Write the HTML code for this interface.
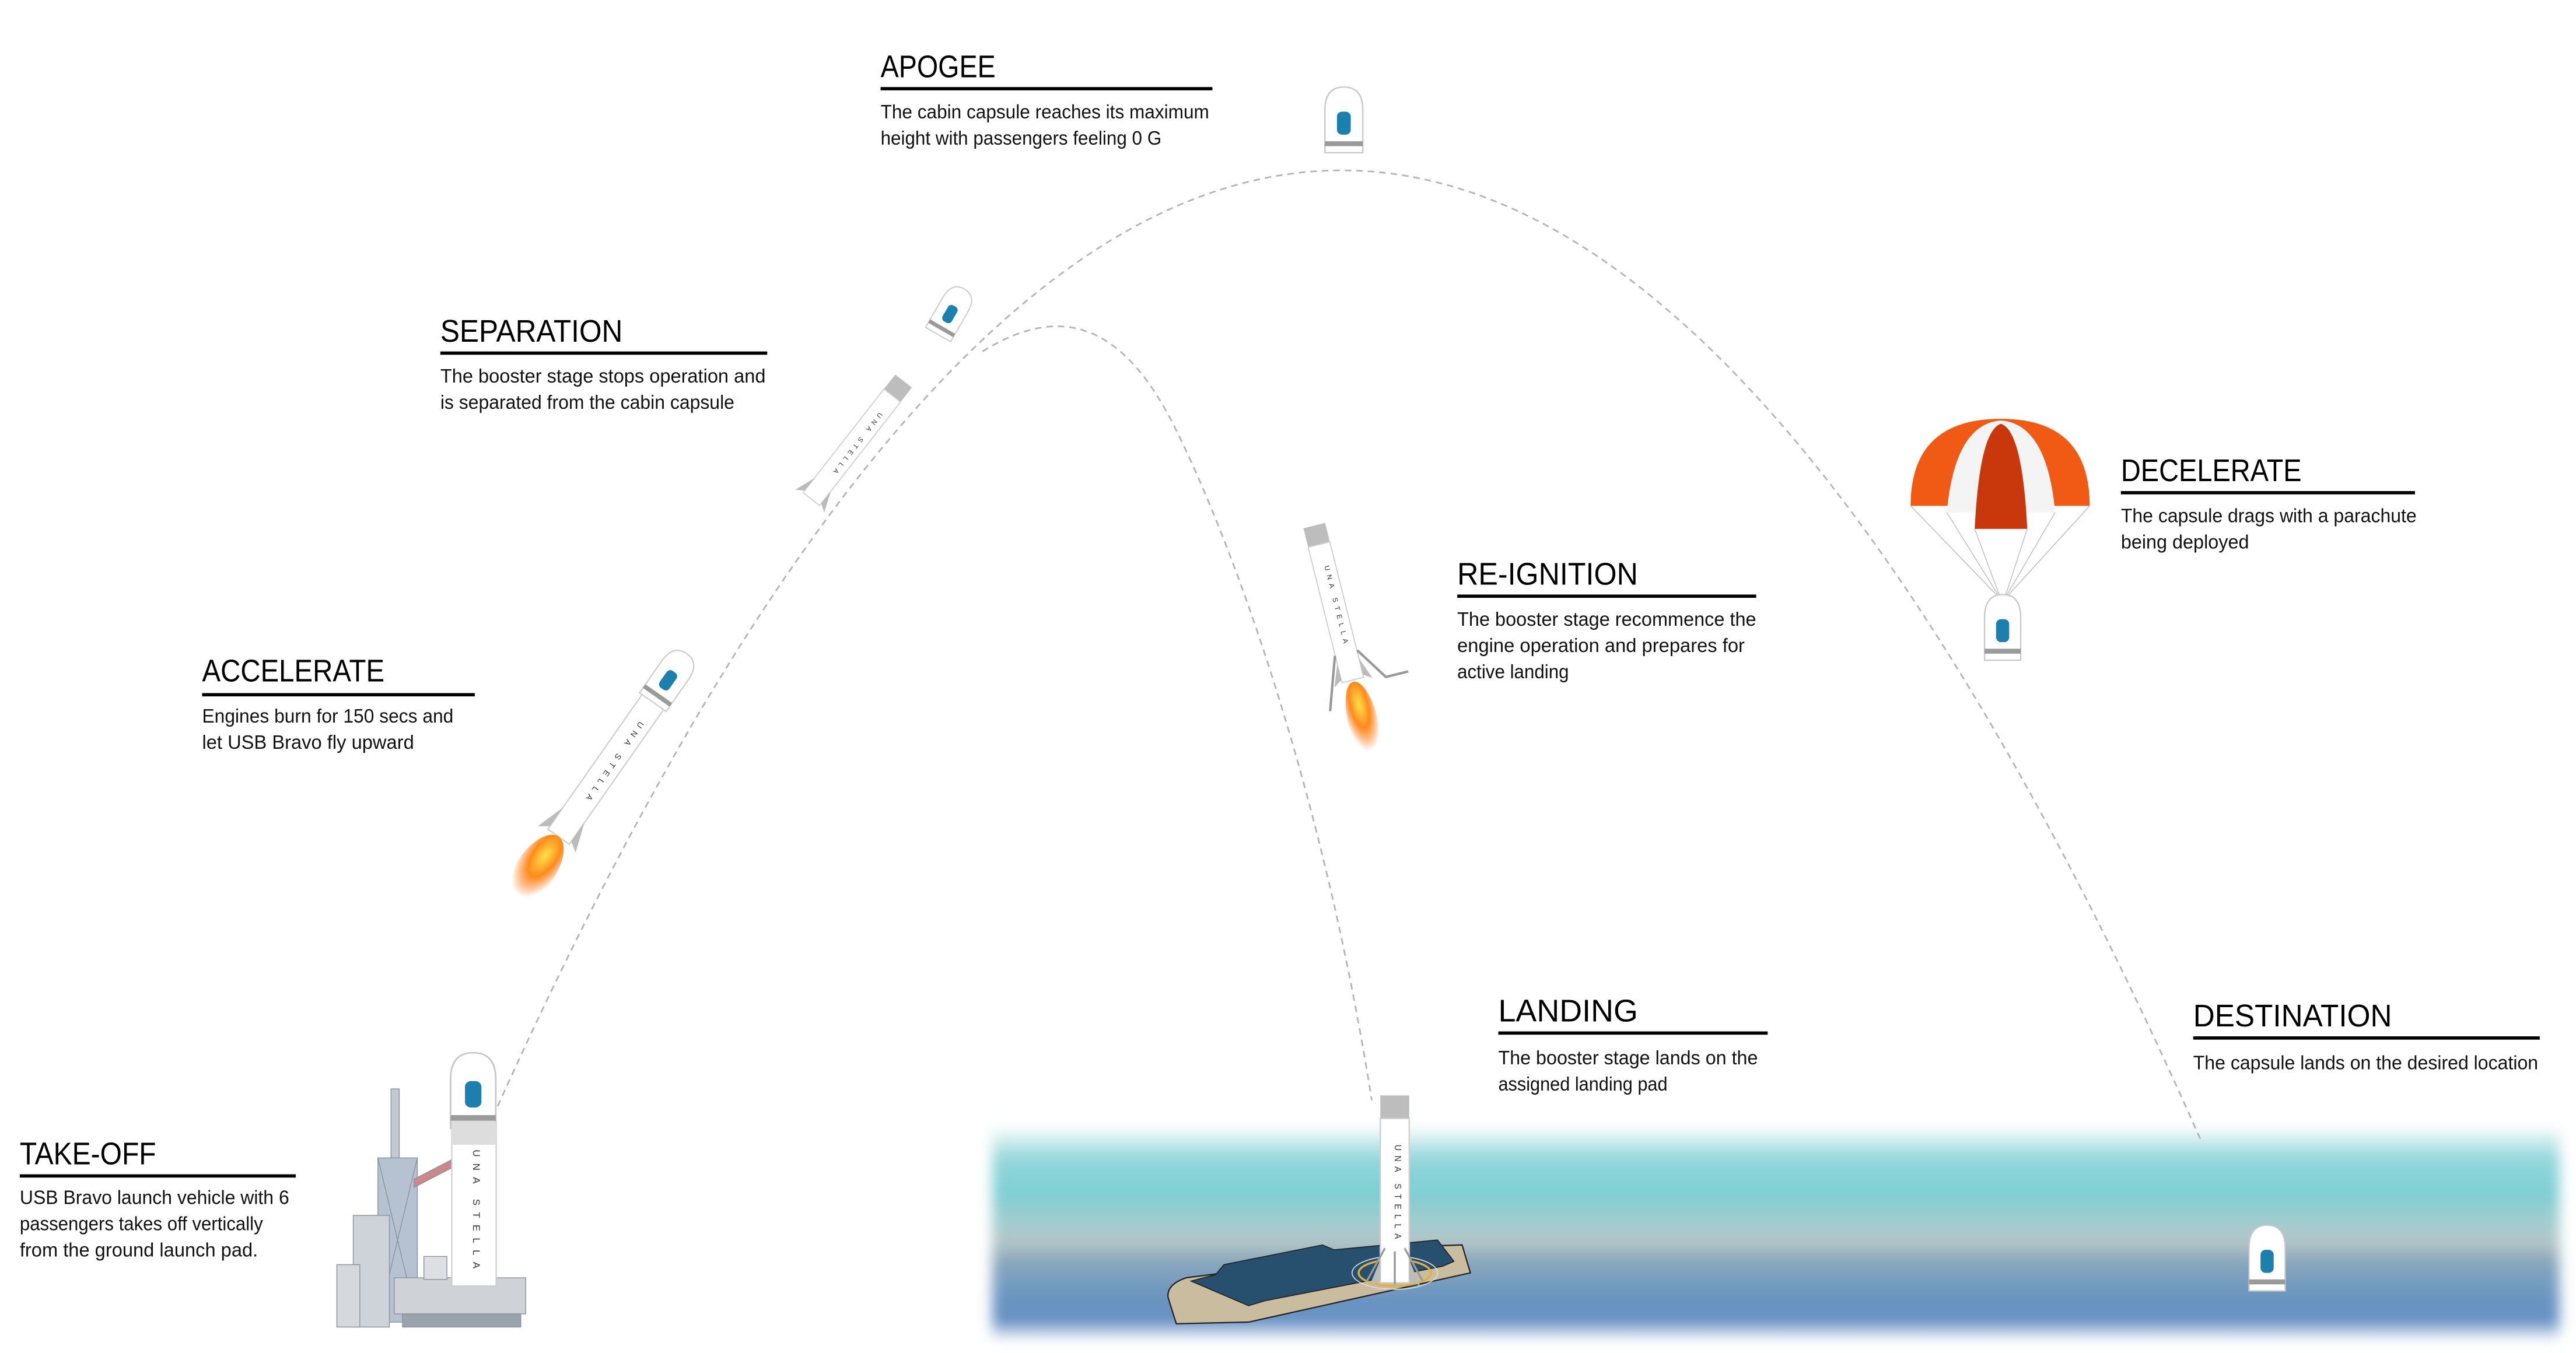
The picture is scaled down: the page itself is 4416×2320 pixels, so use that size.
<!DOCTYPE html>
<html><head><meta charset="utf-8"><style>
html,body{margin:0;padding:0;background:#fff;}
svg{display:block;}
.t{font-family:"Liberation Sans",sans-serif;font-size:19px;fill:#000;}
.b{font-family:"Liberation Sans",sans-serif;font-size:12px;fill:#111;}
</style></head><body>
<svg width="4416" height="2320" viewBox="0 0 1568 823.8" xmlns="http://www.w3.org/2000/svg">
<defs>
<linearGradient id="sea" x1="0" y1="0" x2="0" y2="1">
<stop offset="0" stop-color="#eef8f8"/>
<stop offset="0.14" stop-color="#93d6da"/>
<stop offset="0.3" stop-color="#7ccfd3"/>
<stop offset="0.45" stop-color="#a4ccce"/>
<stop offset="0.55" stop-color="#b3c4c6"/>
<stop offset="0.62" stop-color="#8aa8bc"/>
<stop offset="0.8" stop-color="#6a95c0"/>
<stop offset="0.92" stop-color="#6490c4"/>
<stop offset="1" stop-color="#eef3f9"/>
</linearGradient>
<filter id="blur" x="-5%" y="-20%" width="110%" height="140%"><feGaussianBlur stdDeviation="4"/></filter>
<radialGradient id="fl" cx="0.5" cy="0.3" r="0.6">
<stop offset="0" stop-color="#ffe14a"/><stop offset="0.5" stop-color="#ff8a1c"/><stop offset="1" stop-color="#ff6a00" stop-opacity="0"/>
</radialGradient>
<g id="cap">
<path d="M-11 40 L-11 14 Q-11 0 0 0 Q11 0 11 14 L11 40 Z" fill="#fff" stroke="#c8c8c8" stroke-width="0.8"/>
<rect x="-4" y="15" width="8" height="14" rx="3" fill="#1d7fae"/>
<rect x="-11" y="33" width="22" height="3" fill="#9a9a9a"/>
</g>
<g id="boost">
<rect x="-8" y="0" width="16" height="14" fill="#bdbdbd"/>
<rect x="-8" y="14" width="16" height="100" fill="#fff" stroke="#cfcfcf" stroke-width="0.8"/>
<text x="0" y="30" transform="rotate(90 0 30)" font-family="Liberation Sans,sans-serif" font-size="5" letter-spacing="3" fill="#333">UNA STELLA</text>
<path d="M-8 100 L-14 116 L-8 112 Z M8 100 L14 116 L8 112 Z" fill="#bbb"/>
</g>
</defs>

<rect x="604" y="688" width="954" height="127" fill="url(#sea)" filter="url(#blur)"/>

<path d="M300 680 Q820 -480 1340 695" fill="none" stroke="#b5b5b5" stroke-width="1" stroke-dasharray="4 3"/>
<path d="M598 214 C640 188, 680 190, 715 260 S805 480, 835 670" fill="none" stroke="#b5b5b5" stroke-width="1" stroke-dasharray="4 3"/>

<g fill="#c3c9d0" stroke="#8a929b" stroke-width="0.5">
<rect x="238" y="663" width="5" height="45"/>
<rect x="230" y="705" width="24" height="100" fill="#b4c2d2"/>
<path d="M230 705 L254 805 M254 705 L230 805" stroke="#8a929b"/>
<rect x="215" y="740" width="22" height="68" fill="#cdd3d9"/>
<rect x="205" y="770" width="14" height="38" fill="#d5d9dd"/>
<rect x="240" y="778" width="80" height="22" fill="#cfd3d8"/>
<rect x="245" y="800" width="72" height="8" fill="#9aa2ab"/>
<rect x="258" y="765" width="14" height="14" fill="#dde0e3"/>
<path d="M252 718 L277 705 L277 710 L252 723 Z" fill="#c88"/>
</g>
<g transform="translate(288,641) scale(1.25 1.15)"><use href="#cap"/></g>
<rect x="275" y="683" width="27" height="100" fill="#fff" stroke="#cfcfcf" stroke-width="0.8"/>
<rect x="275" y="683" width="27" height="14" fill="#ddd"/>
<text x="288" y="700" transform="rotate(90 288 700)" font-family="Liberation Sans,sans-serif" font-size="6" letter-spacing="4" fill="#333">UNA STELLA</text>

<g transform="translate(418,398) rotate(35)">
<use href="#cap" transform="scale(0.9)"/>
<rect x="-8" y="36" width="16" height="100" fill="#fff" stroke="#cfcfcf" stroke-width="0.8"/>
<text x="0" y="50" transform="rotate(90 0 50)" font-family="Liberation Sans,sans-serif" font-size="5" letter-spacing="3" fill="#333">UNA STELLA</text>
<path d="M-8 120 L-14 138 L-8 134 Z M8 120 L14 138 L8 134 Z" fill="#bbb"/>
<ellipse cx="0" cy="160" rx="12" ry="24" fill="url(#fl)"/>
</g>

<g transform="translate(587,176) rotate(30)"><use href="#cap" transform="scale(0.8)"/></g>
<g transform="translate(550,232) rotate(38)"><use href="#boost" transform="scale(0.8)"/></g>

<g transform="translate(818,53) scale(1.05 1.0)"><use href="#cap"/></g>

<g transform="translate(800,320) rotate(-14)">
<use href="#boost" transform="scale(0.85)"/>
<path d="M-7 80 L-18 112 M7 80 L20 100 L34 100" stroke="#999" stroke-width="1.5" fill="none"/>
<ellipse cx="0" cy="122" rx="9" ry="24" fill="url(#fl)"/>
</g>

<g>
<path d="M1163 308 Q1163 255 1218 255 Q1272 255 1272 308 Z" fill="#f05a14"/>
<path d="M1185 312 Q1190 258 1218 256 Q1246 258 1251 312 Z" fill="#f4f4f4"/>
<path d="M1202 322 Q1205 262 1218 258 Q1231 262 1234 322 Z" fill="#c9380c"/>
<path d="M1163 308 L1218 365 M1185 312 L1218 365 M1202 322 L1218 365 M1234 322 L1220 365 M1251 312 L1220 365 M1272 308 L1220 365" stroke="#bbb" stroke-width="0.5"/>
<g transform="translate(1219,362)"><use href="#cap"/></g>
</g>

<path d="M711 790 Q710 782 722 778 L800 768 L830 760 L890 758 L895 775 L760 805 L716 806 Z" fill="#c9bc9f" stroke="#222" stroke-width="0.8"/>
<path d="M725 780 L740 776 L745 770 L805 758 L812 761 L875 755 L885 768 L878 771 L770 792 L760 795 Z" fill="#26506e" stroke="#222" stroke-width="0.6"/>
<ellipse cx="849" cy="775" rx="22" ry="8" fill="none" stroke="#e0b040" stroke-width="1.2"/>
<ellipse cx="849" cy="775" rx="26" ry="10" fill="none" stroke="#ddd" stroke-width="0.6"/>
<g transform="translate(849,667) scale(1.1 1.0)"><use href="#boost"/></g>
<path d="M843 760 L832 780 M855 760 L866 780 M849 762 L849 782" stroke="#999" stroke-width="1.2"/>

<g transform="translate(1380,746)"><use href="#cap"/></g>

<g>
<text class="t" x="536" y="47" textLength="70" lengthAdjust="spacingAndGlyphs">APOGEE</text>
<rect x="536" y="53" width="202" height="2"/>
<text class="b" x="536" y="72" textLength="200" lengthAdjust="spacingAndGlyphs">The cabin capsule reaches its maximum</text>
<text class="b" x="536" y="88" textLength="171" lengthAdjust="spacingAndGlyphs">height with passengers feeling 0 G</text>

<text class="t" x="268" y="208" textLength="111" lengthAdjust="spacingAndGlyphs">SEPARATION</text>
<rect x="268" y="214" width="199" height="2"/>
<text class="b" x="268" y="233" textLength="198" lengthAdjust="spacingAndGlyphs">The booster stage stops operation and</text>
<text class="b" x="268" y="249" textLength="179" lengthAdjust="spacingAndGlyphs">is separated from the cabin capsule</text>

<text class="t" x="123" y="415" textLength="111" lengthAdjust="spacingAndGlyphs">ACCELERATE</text>
<rect x="123" y="422" width="166" height="2"/>
<text class="b" x="123" y="440" textLength="153" lengthAdjust="spacingAndGlyphs">Engines burn for 150 secs and</text>
<text class="b" x="123" y="456" textLength="129" lengthAdjust="spacingAndGlyphs">let USB Bravo fly upward</text>

<text class="t" x="12" y="709" textLength="83" lengthAdjust="spacingAndGlyphs">TAKE-OFF</text>
<rect x="12" y="715" width="168" height="2"/>
<text class="b" x="12" y="733" textLength="164" lengthAdjust="spacingAndGlyphs">USB Bravo launch vehicle with 6</text>
<text class="b" x="12" y="749" textLength="148" lengthAdjust="spacingAndGlyphs">passengers takes off vertically</text>
<text class="b" x="12" y="765" textLength="145" lengthAdjust="spacingAndGlyphs">from the ground launch pad.</text>

<text class="t" x="887" y="356" textLength="110" lengthAdjust="spacingAndGlyphs">RE-IGNITION</text>
<rect x="887" y="362" width="182" height="2"/>
<text class="b" x="887" y="381" textLength="182" lengthAdjust="spacingAndGlyphs">The booster stage recommence the</text>
<text class="b" x="887" y="397" textLength="175" lengthAdjust="spacingAndGlyphs">engine operation and prepares for</text>
<text class="b" x="887" y="413" textLength="68" lengthAdjust="spacingAndGlyphs">active landing</text>

<text class="t" x="1291" y="293" textLength="110" lengthAdjust="spacingAndGlyphs">DECELERATE</text>
<rect x="1291" y="299" width="179" height="2"/>
<text class="b" x="1291" y="318" textLength="180" lengthAdjust="spacingAndGlyphs">The capsule drags with a parachute</text>
<text class="b" x="1291" y="334" textLength="78" lengthAdjust="spacingAndGlyphs">being deployed</text>

<text class="t" x="912" y="622" textLength="85" lengthAdjust="spacingAndGlyphs">LANDING</text>
<rect x="912" y="628" width="164" height="2"/>
<text class="b" x="912" y="648" textLength="158" lengthAdjust="spacingAndGlyphs">The booster stage lands on the</text>
<text class="b" x="912" y="664" textLength="103" lengthAdjust="spacingAndGlyphs">assigned landing pad</text>

<text class="t" x="1335" y="625" textLength="121" lengthAdjust="spacingAndGlyphs">DESTINATION</text>
<rect x="1335" y="631" width="211" height="2"/>
<text class="b" x="1335" y="651" textLength="210" lengthAdjust="spacingAndGlyphs">The capsule lands on the desired location</text>
</g>
</svg>
</body></html>
